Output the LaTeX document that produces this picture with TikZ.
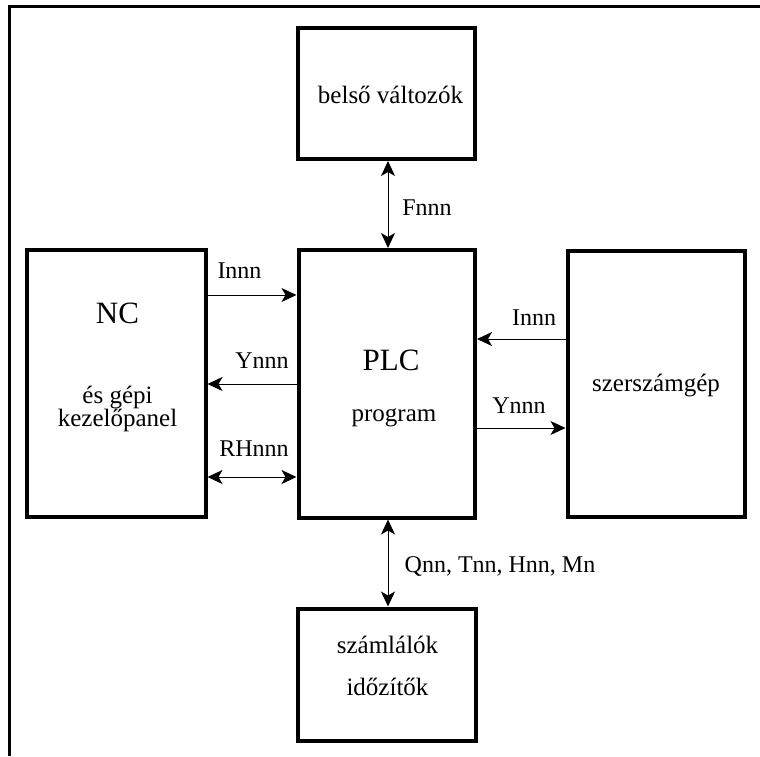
\documentclass[tikz,border=0pt]{standalone}
\usepackage{fontspec}
\setmainfont{Liberation Serif}
\usetikzlibrary{arrows.meta}
\begin{document}
\begin{tikzpicture}[x=1pt,y=-1pt,
  box/.style={draw,line width=4pt,inner sep=0pt},
  arr/.style={line width=1pt,-{Stealth[length=15pt,width=14pt,inset=4pt]}},
  dbl/.style={line width=1pt,{Stealth[length=15pt,width=14pt,inset=4pt]}-{Stealth[length=15pt,width=14pt,inset=4pt]}},
  lab/.style={inner sep=0pt,anchor=base,font=\fontsize{24}{24}\selectfont},
  txt/.style={inner sep=0pt,anchor=base,font=\fontsize{25}{25}\selectfont},
  big/.style={inner sep=0pt,anchor=base,font=\fontsize{31}{31}\selectfont}]
\useasboundingbox (0,0) rectangle (760,756);
\draw[line width=3pt] (9.5,756) -- (9.5,6.5) -- (760,6.5);
% boxes
\node[box,minimum width=177pt,minimum height=131.5pt] (bel) at (386.5,93.25) {};
\node[box,minimum width=178.5pt,minimum height=267pt] (nc) at (116.25,383.5) {};
\node[box,minimum width=176.5pt,minimum height=267.5pt] (plc) at (386.75,383.75) {};
\node[box,minimum width=177.5pt,minimum height=266.5pt] (szg) at (656.25,383.75) {};
\node[box,minimum width=177.5pt,minimum height=132pt] (szl) at (386.75,674.5) {};
% box texts
\node[txt] (tbel) at (390.5,103) {belső változók};
\node[big] (tnc) at (117.5,323.5) {NC};
\node[txt] (tnc2) at (117.5,403) {és gépi};
\node[txt] (tnc3) at (117.5,426) {kezelőpanel};
\node[big] (tplc) at (391,370) {PLC};
\node[txt] (tplc2) at (394,421.5) {program};
\node[txt] (tszg) at (656,391.5) {szerszámgép};
\node[txt] (tszl) at (387.5,653) {számlálók};
\node[txt] (tszl2) at (387.5,695) {időzítők};
% connector rows
\coordinate (r1) at (0,295);
\coordinate (r2) at (0,384);
\coordinate (r3) at (0,477);
\coordinate (r4) at (0,339);
\coordinate (r5) at (0,428);
\coordinate (cx) at (388,0);
\draw[arr] (nc.east |- r1) -- (plc.west |- r1);
\draw[arr] (plc.west |- r2) -- (nc.east |- r2);
\draw[dbl] (nc.east |- r3) -- (plc.west |- r3);
\draw[arr] (szg.west |- r4) -- (plc.east |- r4);
\draw[arr] (plc.east |- r5) -- (szg.west |- r5);
\draw[dbl] (bel.south -| cx) -- (plc.north -| cx);
\draw[dbl] (plc.south -| cx) -- (szl.north -| cx);
% labels
\node[lab] (l1) at (239.5,278.5) {Innn};
\node[lab] (l2) at (262,368.3) {Ynnn};
\node[lab] (l3) at (254,456.7) {RHnnn};
\node[lab] (l4) at (534,325) {Innn};
\node[lab] (l5) at (519,413.3) {Ynnn};
\node[lab] (l6) at (427,215) {Fnnn};
\node[lab] (l7) at (500,572.7) {Qnn, Tnn, Hnn, Mn};
\end{tikzpicture}
\end{document}
